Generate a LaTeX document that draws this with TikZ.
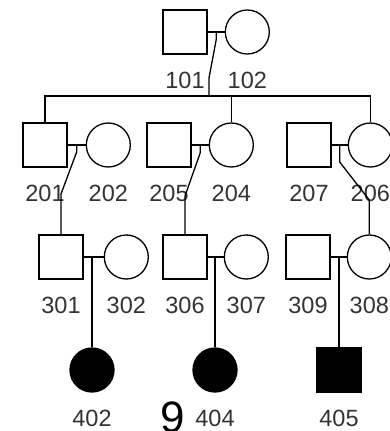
\documentclass[tikz,border=0pt]{standalone}
\usepackage{fontspec}
\setmainfont{Liberation Sans}
\usetikzlibrary{positioning, calc}

\begin{document}
\begin{tikzpicture}[
  x=1pt, y=-1pt,
  line width=1.3pt,
  every label/.style={font=\fontsize{23.5}{24}\selectfont, inner sep=0pt,
                      text=black!80},
  label distance=16.5pt,
  male/.style  ={draw, rectangle, minimum size=44pt, inner sep=0pt},
  female/.style={draw, circle, minimum size=44pt, inner sep=0pt},
  hit/.style   ={fill=black},
  line/.style  ={draw, line width=1.3pt},
]
\useasboundingbox (0,0) rectangle (389,431);

% ---- Generation I -----------------------------------------------------------
\node[male, label=below:101]                  (p101) at (185,32) {};
\node[female, right=17pt of p101, label=below:102] (p102) {};

% ---- Generation II ----------------------------------------------------------
\node[male, label=below:201]                  (p201) at (45,145) {};
\node[female, right=18pt of p201, label=below:202] (p202) {};
\node[male, label=below:205]                  (p205) at (169,145) {};
\node[female, right=17pt of p205, label=below:204] (p204) {};
\node[male, label=below:207]                  (p207) at (309,145) {};
\node[female, right=16pt of p207, label=below:206] (p206) {};

% ---- Generation III ---------------------------------------------------------
\node[male, label=below:301]                  (p301) at (61,257) {};
\node[female, right=20pt of p301, label=below:302] (p302) {};
\node[male, label=below:306]                  (p306) at (185,257) {};
\node[female, right=16pt of p306, label=below:307] (p307) {};
\node[male, label=below:309]                  (p309) at (308,257) {};
\node[female, right=16pt of p309, label=below:308] (p308) {};

% ---- Generation IV (affected) -----------------------------------------------
\node[female, hit, label=below:402] (p402) at (92,370) {};
\node[female, hit, label=below:404] (p404) at (215,370) {};
\node[male, hit, label=below:405]   (p405) at (339,370) {};

\node[font=\fontsize{44}{44}\selectfont, inner sep=0pt, anchor=base] (fig) at (173,432) {9};

% marriage lines
\foreach \a/\b in {p101/p102, p201/p202, p205/p204, p207/p206,
                   p301/p302, p306/p307, p309/p308}
  \draw[line] (\a.east) -- (\b.west);

% I -> II: sibship line with the three children
\coordinate (m1)   at ($(p101.east)!0.5!(p102.west)$);
\coordinate (sib)  at (209,96);
\draw[line] (m1) -- ++(0,8) -- (sib |- 0,78) -- (sib);
\draw[line] (p201.north) |- (sib) -| (p206.north);
\draw[line] (p204.north) -- (p204.north |- sib);

% II -> III
\coordinate (m21) at ($(p201.east)!0.5!(p202.west)$);
\coordinate (m22) at ($(p205.east)!0.5!(p204.west)$);
\coordinate (m23) at ($(p207.east)!0.5!(p206.west)$);
\draw[line] (m21) -- ++(0,7)  -- (p301.north |- 0,194) -- (p301.north);
\draw[line] (m22) -- ++(0,8)  -- (p306.north |- 0,196) -- (p306.north);
\draw[line] (m23) -- ++(0,17) -- (p308.north |- 0,200) -- (p308.north);

% III -> IV
\draw[line] (p402.north |- p301) -- (p402.north);
\draw[line] (p404.north |- p306) -- (p404.north);
\draw[line] (p405.north |- p309) -- (p405.north);
\end{tikzpicture}
\end{document}
